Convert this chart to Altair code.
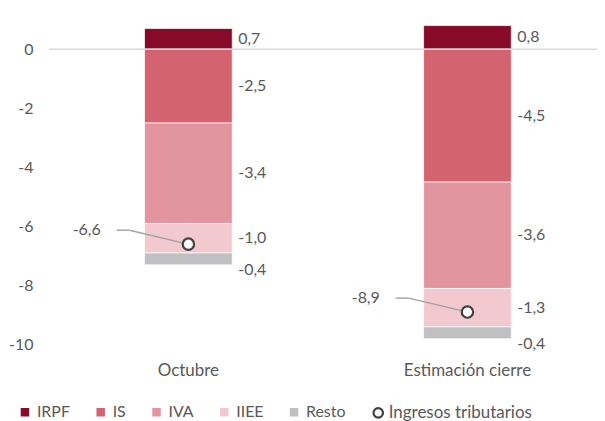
import altair as alt
import pandas as pd

categorias = ["Octubre", "Estimación cierre"]
series = ["IRPF", "IS", "IVA", "IIEE", "Resto"]
irpf = [0.7, 0.8]
is_ = [-2.5, -4.5]
iva = [-3.4, -3.6]
iiee = [-1.0, -1.3]
resto = [-0.4, -0.4]
ingresos = [-6.6, -8.9]
colores = ["#870A28", "#D46370", "#E2959F", "#F2C9CF", "#C0C0C2"]
y_ticks = [0, -2, -4, -6, -8, -10]

TXT = "#595959"
FONT = "Lato"
FS_NUM = 16
FS_TXT = 17


def fmt(v):
    return f"{v:.1f}".replace(".", ",")


rows = []
for i, cat in enumerate(categorias):
    pos = neg = 0.0
    for s, vals in zip(series, [irpf, is_, iva, iiee, resto]):
        v = vals[i]
        if v >= 0:
            y0, y1 = pos, pos + v
            pos = y1
        else:
            y0, y1 = neg, neg + v
            neg = y1
        rows.append(dict(cat=cat, serie=s, valor=v, y0=y0, y1=y1,
                         mid=(y0 + y1) / 2, label=fmt(v)))
df = pd.DataFrame(rows)
tot = pd.DataFrame({"cat": categorias, "total": ingresos,
                    "label": [fmt(v) for v in ingresos],
                    "serie": ["Ingresos tributarios"] * len(categorias)})

xenc = alt.X("cat:N", sort=categorias,
             scale=alt.Scale(paddingInner=0, paddingOuter=0),
             axis=alt.Axis(title=None, labelAngle=0, domain=False, ticks=False,
                           labelPadding=18, labelFontSize=FS_TXT, labelColor=TXT))
yscale = alt.Scale(domain=[-10, 1], nice=False, zero=False)

bars = alt.Chart(df).mark_bar(size=88, stroke="white", strokeWidth=0.7).encode(
    x=xenc,
    y=alt.Y("y0:Q", scale=yscale,
            axis=alt.Axis(title=None, values=y_ticks, grid=False, domain=False,
                          ticks=False, labelPadding=16, labelFontSize=FS_NUM,
                          labelColor=TXT, labelExpr="'' + datum.value")),
    y2="y1:Q",
    color=alt.Color("serie:N", scale=alt.Scale(domain=series, range=colores),
                    legend=alt.Legend(title=None, orient="none",
                                      direction="horizontal", legendX=-32,
                                      legendY=386, symbolType="square",
                                      symbolSize=100, labelFontSize=16,
                                      labelColor=TXT, columnPadding=22,
                                      labelOffset=4)),
)

zero = alt.Chart(pd.DataFrame({"z": [0]})).mark_rule(
    color="#D9D9D9", strokeWidth=1.5).encode(y=alt.Y("z:Q", scale=yscale))

xcat = alt.X("cat:N", sort=categorias)

labels = alt.Chart(df).transform_filter("datum.serie != 'Resto'").mark_text(
    align="left", baseline="middle", dx=50, fontSize=FS_NUM, color=TXT,
    font=FONT).encode(x=xcat, y="mid:Q", text="label:N")
labels_resto = alt.Chart(df).transform_filter("datum.serie == 'Resto'").mark_text(
    align="left", baseline="middle", dx=50, dy=11, fontSize=FS_NUM, color=TXT,
    font=FONT).encode(x=xcat, y="mid:Q", text="label:N")

lead1 = alt.Chart(tot).mark_rule(color="#A6A6A6", strokeWidth=1.5,
                                 x2Offset=-59, y2Offset=-14).encode(
    x=xcat, x2="cat", y="total:Q", y2="total")
lead2 = alt.Chart(tot).mark_rule(color="#A6A6A6", strokeWidth=1.5,
                                 xOffset=-59, x2Offset=-72, yOffset=-14,
                                 y2Offset=-14).encode(
    x=xcat, x2="cat", y="total:Q", y2="total")

pts = alt.Chart(tot).mark_point(filled=False, fill="white", shape="circle",
                                strokeWidth=2.2, size=130, opacity=1,
                                fillOpacity=1).encode(
    x=xcat, y="total:Q",
    stroke=alt.Stroke("serie:N", scale=alt.Scale(range=["#404040"]),
                      legend=alt.Legend(title=None, orient="none", legendX=322,
                                        legendY=386, symbolType="circle",
                                        symbolFillColor="white",
                                        symbolStrokeWidth=2.2, symbolSize=90,
                                        labelFontSize=FS_TXT, labelColor=TXT,
                                        labelOffset=2)))

tot_labels = alt.Chart(tot).mark_text(align="right", baseline="middle", dx=-88,
                                      dy=-14, fontSize=FS_NUM, color=TXT,
                                      font=FONT).encode(
    x=xcat, y="total:Q", text="label:N")

chart = alt.layer(bars, zero, labels, labels_resto, lead1, lead2, pts,
                  tot_labels).properties(
    width=560, height=326,
    padding={"left": 0, "top": 11, "right": -11, "bottom": 6},
).configure(font=FONT).configure_view(stroke=None).configure_legend(
    labelFont=FONT)

chart.save("out.html", embed_options={"renderer": "svg", "actions": False})
